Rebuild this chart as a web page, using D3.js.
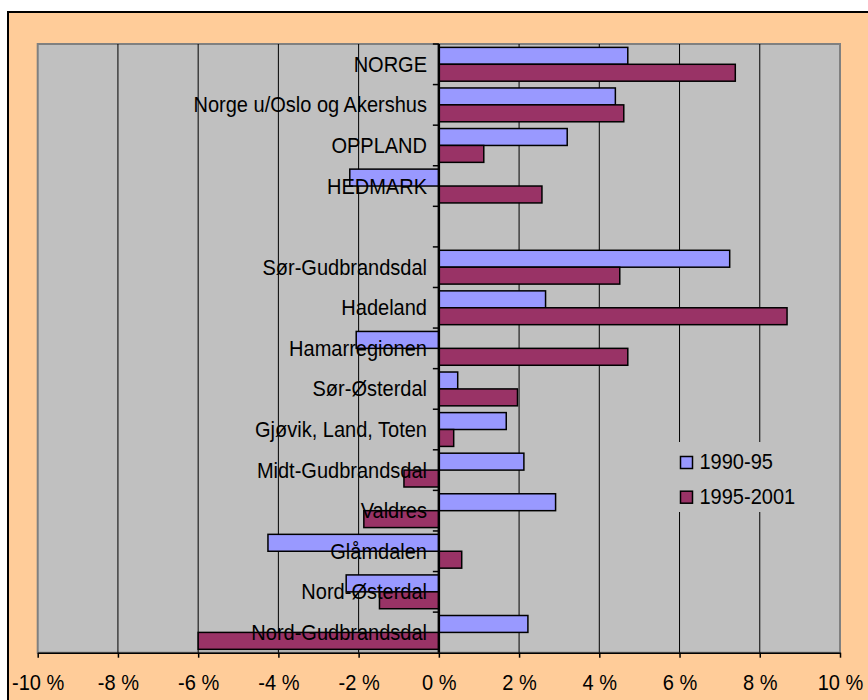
<!DOCTYPE html>
<html>
<head>
<meta charset="utf-8">
<script src="https://cdn.jsdelivr.net/npm/d3@7"></script>
<style>
  body { margin: 0; background: #ffffff; }
  svg { display: block; font-family: "Liberation Sans", Arial, sans-serif; }
</style>
</head>
<body>
<div id="chart"></div>
<script>
// data (percent change)
const categories = ["NORGE", "Norge u/Oslo og Akershus", "OPPLAND", "HEDMARK", " ",
  "Sør-Gudbrandsdal", "Hadeland", "Hamarregionen", "Sør-Østerdal", "Gjøvik, Land, Toten",
  "Midt-Gudbrandsdal", "Valdres", "Glåmdalen", "Nord-Østerdal", "Nord-Gudbrandsdal"];
const values9095 = [4.71, 4.40, 3.20, -2.22, null, 7.25, 2.66, -2.06, 0.47, 1.68, 2.12, 2.91, -4.26, -2.31, 2.22];
const values9501 = [7.39, 4.61, 1.12, 2.57, null, 4.51, 8.68, 4.71, 1.96, 0.37, -0.87, -1.87, 0.57, -1.48, -6.00];
const seriesNames = ["1990-95", "1995-2001"];
const seriesColors = ["#9999ff", "#993366"];
const xTicks = [-10, -8, -6, -4, -2, 0, 2, 4, 6, 8, 10];

const width = 868, height = 700;
const plot = {left: 37.7, top: 44, right: 840, bottom: 652.7};
const fontSize = 22, squeeze = 0.91;  // text in the original is a bit narrow

const svg = d3.select("#chart").append("svg")
  .attr("width", width)
  .attr("height", height);

// outer frame
svg.append("rect")
  .attr("x", 8).attr("y", 12)
  .attr("width", 880).attr("height", 720)
  .attr("fill", "#ffcc99")
  .attr("stroke", "#000").attr("stroke-width", 2);

const x = d3.scaleLinear().domain([-10, 10]).range([plot.left, plot.right]);
const y = d3.scaleBand().domain(categories).range([plot.top, plot.bottom]).padding(0);

// plot area
svg.append("rect")
  .attr("x", plot.left).attr("y", plot.top)
  .attr("width", plot.right - plot.left).attr("height", plot.bottom - plot.top)
  .attr("fill", "#c0c0c0")
  .attr("stroke", "#808080").attr("stroke-width", 2);

// grid lines
svg.append("g").selectAll("line")
  .data(xTicks.filter(d => d !== 0 && Math.abs(d) !== 10))
  .join("line")
  .attr("x1", d => x(d)).attr("x2", d => x(d))
  .attr("y1", plot.top).attr("y2", plot.bottom)
  .attr("stroke", "#000").attr("stroke-width", 1);

// bars
const barH = y.bandwidth() / 2.4;
const gap = barH * 0.2;
const series = [values9095, values9501];

series.forEach((vals, si) => {
  svg.append("g").selectAll("rect")
    .data(categories.map((c, i) => ({c: c, v: vals[i]})).filter(d => d.v !== null))
    .join("rect")
    .attr("x", d => x(Math.min(0, d.v)))
    .attr("width", d => Math.abs(x(d.v) - x(0)))
    .attr("y", d => y(d.c) + gap + si * barH)
    .attr("height", barH)
    .attr("fill", seriesColors[si])
    .attr("stroke", "#000").attr("stroke-width", 1.5);
});

// y axis line and boundary ticks
svg.append("line")
  .attr("x1", x(0)).attr("x2", x(0))
  .attr("y1", plot.top).attr("y2", plot.bottom)
  .attr("stroke", "#000").attr("stroke-width", 2.5);

svg.append("g").selectAll("line")
  .data(categories)
  .join("line")
  .attr("x1", x(0) - 6).attr("x2", x(0))
  .attr("y1", d => y(d)).attr("y2", d => y(d))
  .attr("stroke", "#000").attr("stroke-width", 1.5);

// category labels, drawn over the bars like the original
svg.append("g").selectAll("text")
  .data(categories)
  .join("text")
  .attr("transform", d => "translate(427," + (y(d) + y.bandwidth() / 2) + ") scale(" + squeeze + ",1)")
  .attr("dy", "0.34em")
  .attr("text-anchor", "end")
  .attr("font-size", fontSize)
  .attr("fill", "#000")
  .text(d => d.trim());

// x axis
const xAxis = svg.append("g")
  .attr("transform", "translate(0," + plot.bottom + ")")
  .call(d3.axisBottom(x)
    .tickValues(xTicks)
    .tickSize(5)
    .tickSizeOuter(0)
    .tickFormat(d => d + " %"));

xAxis.select(".domain").attr("stroke", "#000").attr("stroke-width", 1.5);
xAxis.selectAll(".tick line").attr("stroke", "#000").attr("stroke-width", 1.5);
xAxis.selectAll(".tick text")
  .attr("y", null)
  .attr("dy", null)
  .attr("transform", "translate(0,37.5) scale(" + squeeze + ",1)")
  .attr("font-size", fontSize)
  .attr("font-family", "'Liberation Sans', Arial, sans-serif")
  .attr("fill", "#000");

// legend
const legend = svg.append("g");
legend.append("rect")
  .attr("x", 672).attr("y", 442)
  .attr("width", 132).attr("height", 70)
  .attr("fill", "#c0c0c0");

seriesNames.forEach((name, i) => {
  const ly = 456.5 + i * 34.7;
  legend.append("rect")
    .attr("x", 680.5).attr("y", ly)
    .attr("width", 12).attr("height", 12)
    .attr("fill", seriesColors[i])
    .attr("stroke", "#000").attr("stroke-width", 1.5);
  legend.append("text")
    .attr("transform", "translate(699.5," + (ly + 12.5) + ") scale(" + squeeze + ",1)")
    .attr("font-size", fontSize)
    .attr("fill", "#000")
    .text(name);
});
</script>
</body>
</html>
